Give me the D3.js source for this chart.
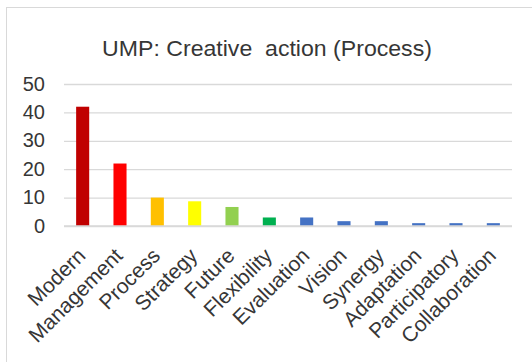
<!DOCTYPE html>
<html>
<head>
<meta charset="utf-8">
<script src="https://cdn.jsdelivr.net/npm/d3@7"></script>
<style>
  html, body { margin: 0; padding: 0; background: #fff; }
  svg { display: block; font-family: "Liberation Sans", Arial, sans-serif; }
</style>
</head>
<body>
<svg id="chart" width="532" height="362"></svg>
<script>
// Keyword counts for the "Creative action (Process)" category
const categories = ["Modern", "Management", "Process", "Strategy", "Future", "Flexibility",
  "Evaluation", "Vision", "Synergy", "Adaptation", "Participatory", "Collaboration"];
const counts = [42, 22, 10, 8.7, 6.7, 3, 3, 1.7, 1.7, 1, 1, 1];
const barColors = ["#C00000", "#FF0000", "#FFC000", "#FFFF00", "#92D050", "#00B050",
  "#4472C4", "#4472C4", "#4472C4", "#4472C4", "#4472C4", "#4472C4"];
const yTicks = [0, 10, 20, 30, 40, 50];
const titleText = "UMP: Creative  action (Process)";

const svg = d3.select("#chart");
const plot = { left: 64, right: 512, top: 84, bottom: 226 };
const textColor = "#363636";

// chart frame
svg.append("rect")
  .attr("x", 6.5).attr("y", 7.5)
  .attr("width", 540).attr("height", 370)
  .attr("fill", "#fff").attr("stroke", "#D9D9D9").attr("stroke-width", 1);

const x = d3.scaleBand()
  .domain(categories)
  .range([plot.left, plot.right])
  .paddingInner(0.65).paddingOuter(0.325);

const y = d3.scaleLinear().domain([0, 50]).range([plot.bottom, plot.top]);

// horizontal gridlines + y labels
const yAxis = d3.axisLeft(y).tickValues(yTicks).tickSize(-(plot.right - plot.left)).tickPadding(19);
const gy = svg.append("g").attr("transform", `translate(${plot.left},0)`).call(yAxis);
gy.select(".domain").remove();
gy.selectAll(".tick line").attr("stroke", "#D9D9D9").attr("stroke-width", 1.3);
gy.selectAll(".tick text")
  .attr("fill", textColor).attr("font-size", 20).attr("dy", "0.3em")
  .attr("font-family", "Liberation Sans, Arial, sans-serif");

// bars
svg.append("g").selectAll("rect")
  .data(categories)
  .join("rect")
  .attr("x", d => x(d))
  .attr("y", (d, i) => y(counts[i]))
  .attr("width", x.bandwidth())
  .attr("height", (d, i) => y(0) - y(counts[i]))
  .attr("fill", (d, i) => barColors[i]);

// baseline drawn above bars
svg.append("line")
  .attr("x1", plot.left).attr("x2", plot.right)
  .attr("y1", y(0)).attr("y2", y(0))
  .attr("stroke", "#D9D9D9").attr("stroke-width", 1.3);

// rotated category labels
const xAxis = d3.axisBottom(x).tickSize(0).tickPadding(0);
const gx = svg.append("g").attr("transform", `translate(0,${plot.bottom})`).call(xAxis);
gx.select(".domain").remove();
gx.selectAll(".tick text")
  .attr("fill", textColor).attr("font-size", 21)
  .attr("font-family", "Liberation Sans, Arial, sans-serif")
  .attr("text-anchor", "end")
  .attr("dy", null).attr("y", null)
  .attr("transform", "translate(4,31) rotate(-45)");

// title
svg.append("text")
  .attr("transform", "translate(267,56) scale(1.05,1)")
  .attr("text-anchor", "middle")
  .attr("font-size", 22)
  .attr("fill", textColor)
  .style("white-space", "pre")
  .text(titleText);
</script>
</body>
</html>
